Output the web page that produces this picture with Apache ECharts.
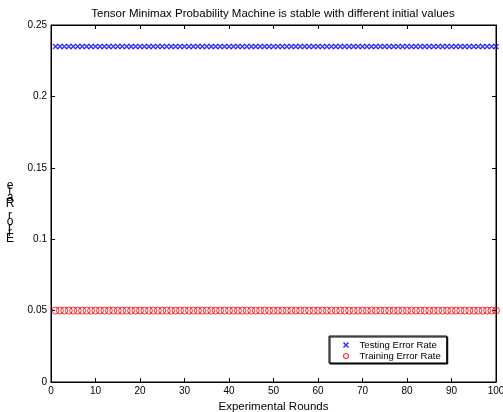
<!DOCTYPE html>
<html>
<head>
<meta charset="utf-8">
<script src="https://cdn.jsdelivr.net/npm/echarts@6/dist/echarts.min.js"></script>
<style>
  html, body { margin: 0; padding: 0; background: #fff; }
  #chart { width: 503px; height: 412px; }
</style>
</head>
<body>
<div id="chart"></div>
<script>
// experimental rounds 1..100
const rounds = [
  1, 2, 3, 4, 5, 6, 7, 8, 9, 10, 11, 12, 13, 14, 15, 16, 17, 18, 19, 20,
  21, 22, 23, 24, 25, 26, 27, 28, 29, 30, 31, 32, 33, 34, 35, 36, 37, 38, 39, 40,
  41, 42, 43, 44, 45, 46, 47, 48, 49, 50, 51, 52, 53, 54, 55, 56, 57, 58, 59, 60,
  61, 62, 63, 64, 65, 66, 67, 68, 69, 70, 71, 72, 73, 74, 75, 76, 77, 78, 79, 80,
  81, 82, 83, 84, 85, 86, 87, 88, 89, 90, 91, 92, 93, 94, 95, 96, 97, 98, 99, 100
];
const testingError = [
  0.235, 0.235, 0.235, 0.235, 0.235, 0.235, 0.235, 0.235, 0.235, 0.235,
  0.235, 0.235, 0.235, 0.235, 0.235, 0.235, 0.235, 0.235, 0.235, 0.235,
  0.235, 0.235, 0.235, 0.235, 0.235, 0.235, 0.235, 0.235, 0.235, 0.235,
  0.235, 0.235, 0.235, 0.235, 0.235, 0.235, 0.235, 0.235, 0.235, 0.235,
  0.235, 0.235, 0.235, 0.235, 0.235, 0.235, 0.235, 0.235, 0.235, 0.235,
  0.235, 0.235, 0.235, 0.235, 0.235, 0.235, 0.235, 0.235, 0.235, 0.235,
  0.235, 0.235, 0.235, 0.235, 0.235, 0.235, 0.235, 0.235, 0.235, 0.235,
  0.235, 0.235, 0.235, 0.235, 0.235, 0.235, 0.235, 0.235, 0.235, 0.235,
  0.235, 0.235, 0.235, 0.235, 0.235, 0.235, 0.235, 0.235, 0.235, 0.235,
  0.235, 0.235, 0.235, 0.235, 0.235, 0.235, 0.235, 0.235, 0.235, 0.235
];
const trainingError = [
  0.05, 0.05, 0.05, 0.05, 0.05, 0.05, 0.05, 0.05, 0.05, 0.05,
  0.05, 0.05, 0.05, 0.05, 0.05, 0.05, 0.05, 0.05, 0.05, 0.05,
  0.05, 0.05, 0.05, 0.05, 0.05, 0.05, 0.05, 0.05, 0.05, 0.05,
  0.05, 0.05, 0.05, 0.05, 0.05, 0.05, 0.05, 0.05, 0.05, 0.05,
  0.05, 0.05, 0.05, 0.05, 0.05, 0.05, 0.05, 0.05, 0.05, 0.05,
  0.05, 0.05, 0.05, 0.05, 0.05, 0.05, 0.05, 0.05, 0.05, 0.05,
  0.05, 0.05, 0.05, 0.05, 0.05, 0.05, 0.05, 0.05, 0.05, 0.05,
  0.05, 0.05, 0.05, 0.05, 0.05, 0.05, 0.05, 0.05, 0.05, 0.05,
  0.05, 0.05, 0.05, 0.05, 0.05, 0.05, 0.05, 0.05, 0.05, 0.05,
  0.05, 0.05, 0.05, 0.05, 0.05, 0.05, 0.05, 0.05, 0.05, 0.05
];
const seriesNames = ['Testing Error Rate', 'Training Error Rate'];
const titleText = 'Tensor Minimax Probability Machine is stable with different initial values';
const xLabel = 'Experimental Rounds';
const yLabel = 'Error Rate';

const FONT = '"Liberation Sans", Arial, sans-serif';
const CROSS = 'path://M0,0L10,10M10,0L0,10';
const chart = echarts.init(document.getElementById('chart'));

// the y label in the picture is drawn as upright letters stacked bottom-to-top
const stackedLabel = yLabel.split('').reverse().join('\n');

const axisCommon = {
  axisLine: { show: true, onZero: false, lineStyle: { color: '#000', width: 1 } },
  axisTick: { show: true, inside: true, length: 4, lineStyle: { color: '#000' } },
  splitLine: { show: false },
};

chart.setOption({
  animation: false,
  backgroundColor: '#fff',
  textStyle: { fontFamily: FONT },
  grid: {
    left: 51, right: 7, top: 25, bottom: 30,
    outerBoundsMode: 'none', containLabel: false,
    show: true, borderColor: '#000', borderWidth: 1,
  },
  legend: {
    orient: 'vertical',
    left: 329, top: 336,
    padding: [4, 6, 2, 12],
    itemGap: 1,
    itemWidth: 5, itemHeight: 5,
    backgroundColor: '#fff',
    borderColor: '#000', borderWidth: 1,
    shadowColor: '#000', shadowOffsetX: 1, shadowOffsetY: 1, shadowBlur: 0,
    textStyle: { fontSize: 9.6, color: '#000', fontFamily: FONT, padding: [0, 0, 0, 6] },
    data: [
      { name: seriesNames[0], icon: CROSS,
        itemStyle: { color: '#0000ff', borderColor: '#0000ff', borderWidth: 1.6 } },
      { name: seriesNames[1], icon: 'circle',
        itemStyle: { color: 'none', borderColor: '#ff0000', borderWidth: 1.2 } },
    ],
  },
  xAxis: [
    Object.assign({}, axisCommon, {
      type: 'value', min: 0, max: 100, interval: 10,
      position: 'bottom',
      axisLabel: { fontSize: 10, color: '#000', margin: 4, fontFamily: FONT },
      name: xLabel, nameLocation: 'middle', nameGap: 18,
      nameTextStyle: { fontSize: 11.5, color: '#000', fontFamily: FONT },
    }),
    Object.assign({}, axisCommon, {
      type: 'value', min: 0, max: 100, interval: 10,
      position: 'top',
      axisLabel: { show: false },
    }),
  ],
  yAxis: [
    Object.assign({}, axisCommon, {
      type: 'value', min: 0, max: 0.25, interval: 0.05,
      position: 'left',
      axisLabel: { fontSize: 10, color: '#000', margin: 4, fontFamily: FONT },
    }),
    Object.assign({}, axisCommon, {
      type: 'value', min: 0, max: 0.25, interval: 0.05,
      position: 'right',
      axisLabel: { show: false },
    }),
  ],
  graphic: [
    {
      type: 'text',
      x: 273, y: 8,
      style: {
        text: titleText,
        fontSize: 11.5, fill: '#000', align: 'center', verticalAlign: 'top',
        fontFamily: FONT,
      },
    },
    {
      type: 'text',
      x: 10, y: 183,
      style: {
        text: stackedLabel,
        fontSize: 12, lineHeight: 5.9,
        fill: '#000', align: 'center', verticalAlign: 'top',
        fontFamily: FONT,
      },
    },
  ],
  series: [
    {
      name: seriesNames[0],
      type: 'scatter',
      symbol: CROSS,
      symbolSize: 5,
      itemStyle: { color: '#0000ff', borderColor: '#0000ff', borderWidth: 1.3 },
      data: rounds.map((r, i) => [r, testingError[i]]),
    },
    {
      name: seriesNames[1],
      type: 'scatter',
      symbol: 'circle',
      symbolSize: 7,
      itemStyle: { color: 'none', borderColor: '#ff0000', borderWidth: 1 },
      data: rounds.map((r, i) => [r, trainingError[i]]),
    },
  ],
});
</script>
</body>
</html>
